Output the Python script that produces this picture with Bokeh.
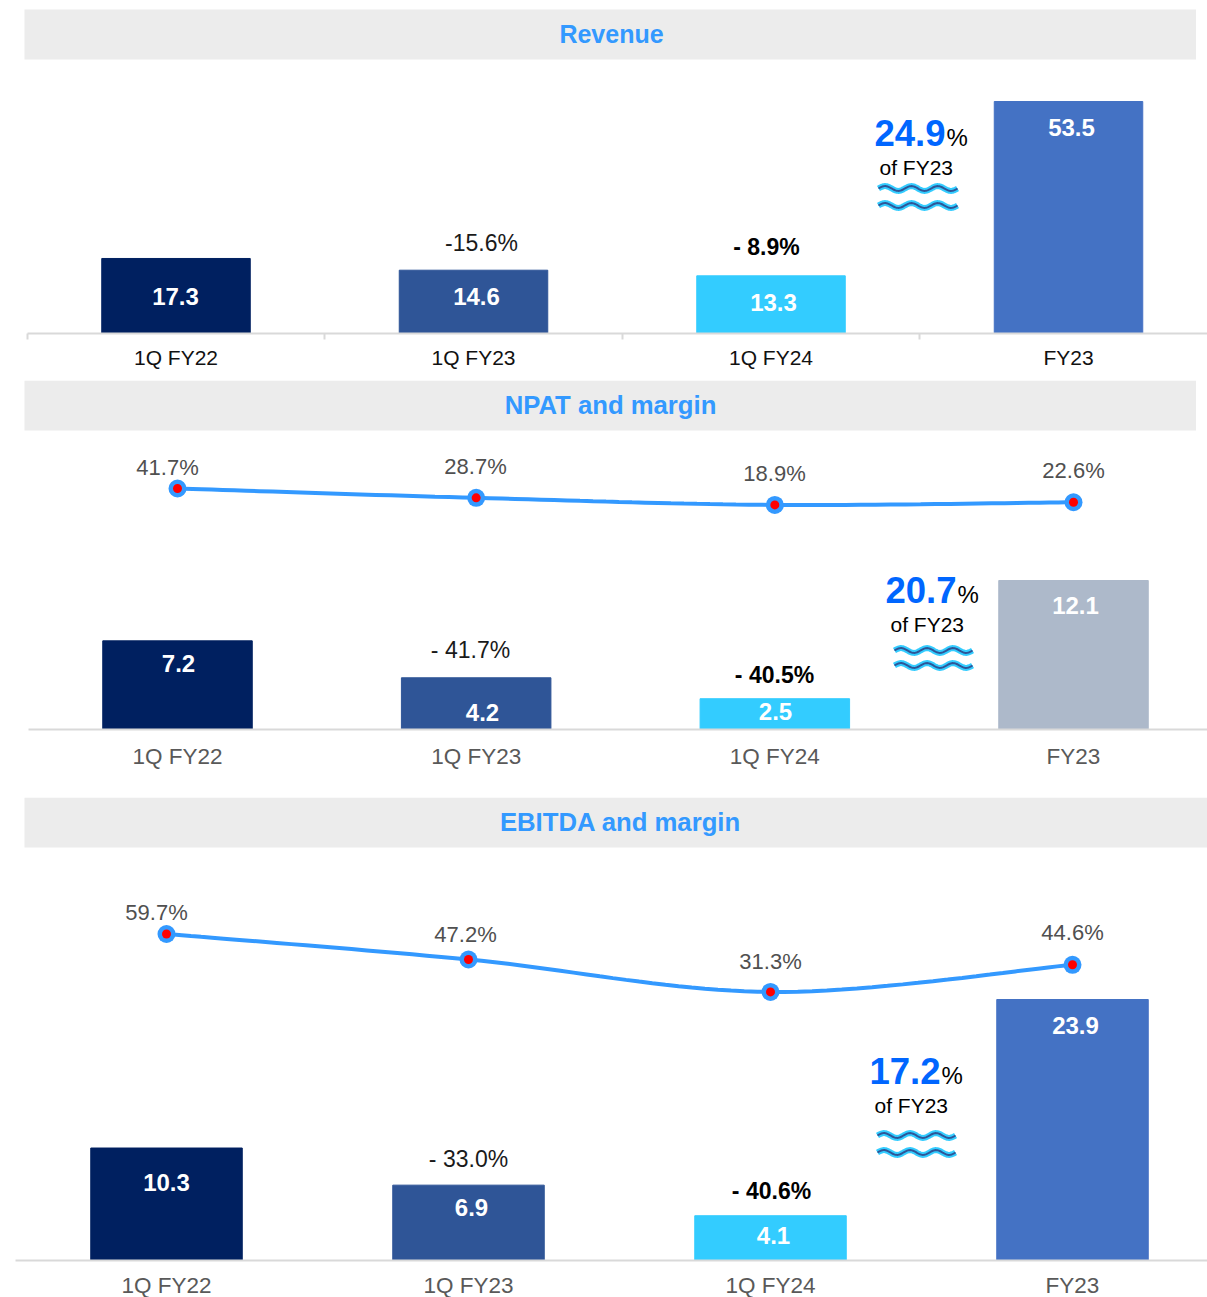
import numpy as np
from bokeh.embed import file_html
from bokeh.layouts import column
from bokeh.models import (BoxAnnotation, ColumnDataSource, FixedTicker, LinearAxis,
                          Range1d)
from bokeh.plotting import figure
from bokeh.resources import INLINE
from bokeh.core.properties import value

# ---------- data ----------
periods = ["1Q FY22", "1Q FY23", "1Q FY24", "FY23"]
revenue = [17.3, 14.6, 13.3, 53.5]
npat = [7.2, 4.2, 2.5, 12.1]
ebitda = [10.3, 6.9, 4.1, 23.9]
npat_margin = [41.7, 28.7, 18.9, 22.6]
ebitda_margin = [59.7, 47.2, 31.3, 44.6]
revenue_growth = ["-15.6%", "- 8.9%"]
npat_growth = ["- 41.7%", "- 40.5%"]
ebitda_growth = ["- 33.0%", "- 40.6%"]
share_of_fy23 = ["24.9", "20.7", "17.2"]

# ---------- style ----------
FONT = value("Liberation Sans")
BAR_COLORS = ["#002060", "#2F5597", "#33CCFF"]
BLUE = "#3399FF"
PAGE_LEFT, PAGE_RIGHT = 0, 1207


def smooth(xs, ys, n=24):
    """Curve through the points, as a smoothed spreadsheet line draws it."""
    xs, ys = np.asarray(xs, float), np.asarray(ys, float)
    px = np.r_[xs[0], xs, xs[-1]]
    py = np.r_[ys[0], ys, ys[-1]]
    ox, oy = [], []
    for i in range(1, len(px) - 2):
        t = np.linspace(0, 1, n)
        for arr, src in ((ox, px), (oy, py)):
            p0, p1, p2, p3 = src[i - 1], src[i], src[i + 1], src[i + 2]
            arr.extend(0.5 * (2 * p1 + (p2 - p0) * t + (2 * p0 - 5 * p1 + 4 * p2 - p3) * t ** 2
                              + (3 * p1 - p0 - 3 * p2 + p3) * t ** 3))
    return ox, oy


def panel(title, title_x, title_size, band, top_px, base_px, bottom_px, first_c, step, bar_w, values,
          last_color, px_per_unit, label_color, label_size, ticks_between, standoff,
          value_pos, growth, growth_pos, share, share_px, waves_px,
          margin=None, margin_anchor=None, margin_pos=None):
    x0 = (PAGE_LEFT - first_c) / step
    x1 = (PAGE_RIGHT - first_c) / step
    height = bottom_px - top_px
    p = figure(width=PAGE_RIGHT - PAGE_LEFT, height=height, output_backend="svg",
               toolbar_location=None, x_axis_type=None, y_axis_type=None,
               x_range=Range1d(x0, x1),
               y_range=Range1d((base_px - bottom_px) / px_per_unit, (base_px - top_px) / px_per_unit),
               min_border_left=0, min_border_right=0, min_border_top=0, min_border_bottom=0)
    p.outline_line_color = None
    p.grid.visible = False
    p.background_fill_color = "white"
    p.extra_x_ranges["page"] = Range1d(PAGE_LEFT, PAGE_RIGHT)
    p.extra_y_ranges["page"] = Range1d(bottom_px, top_px)

    axis = LinearAxis(ticker=FixedTicker(ticks=[0, 1, 2, 3],
                                         minor_ticks=[-.5, .5, 1.5, 2.5] if ticks_between else []),
                      major_label_overrides={i: n for i, n in enumerate(periods)},
                      bounds=(-0.5, x1), fixed_location=0)
    axis.axis_line_color = "#D9D9D9"
    axis.axis_line_width = 2
    axis.major_tick_line_color = None
    axis.minor_tick_line_color = "#D9D9D9"
    axis.minor_tick_line_width = 2
    axis.minor_tick_out = 6
    axis.minor_tick_in = 0
    axis.major_tick_out = 0
    axis.major_tick_in = 0
    axis.major_label_standoff = standoff
    axis.major_label_text_font = "Liberation Sans"
    axis.major_label_text_font_size = label_size
    axis.major_label_text_color = label_color
    p.add_layout(axis, "below")

    # title band
    p.add_layout(BoxAnnotation(left=band[0], right=band[1], top=band[2], bottom=band[3],
                               x_range_name="page", y_range_name="page",
                               fill_color="#ECECEC", fill_alpha=1, line_color=None, level="underlay"))

    def txt(x, y, s, color, size, bold=False, align="center"):
        p.text(x=[x], y=[y - 1], text=[s], x_range_name="page", y_range_name="page",
               text_font=FONT, text_font_size=size, text_color=color,
               text_font_style="bold" if bold else "normal",
               text_align=align, text_baseline="middle")

    txt(title_x, (band[2] + band[3]) / 2, title, BLUE, title_size, True)

    # bars
    colors = BAR_COLORS + [last_color]
    src = ColumnDataSource(dict(x=list(range(4)), top=values, color=colors))
    p.vbar(x="x", top="top", bottom=0, width=(bar_w - 0.5) / step, color="color", source=src)
    for v, (vx, vy) in zip(values, value_pos):
        txt(vx, vy, f"{v:.1f}", "white", "24px", True)

    # growth labels
    txt(growth_pos[0][0], growth_pos[0][1], growth[0], "#1A1A1A", "23px")
    txt(growth_pos[1][0], growth_pos[1][1], growth[1], "#000000", "23px", True)

    # share callout
    sx, sy, ox, oy = share_px
    txt(sx - 1, sy, share, "#0066FF", "36.5px", True, "left")
    txt(sx + 71, sy + 5, "%", "#000000", "24px", False, "left")
    txt(ox - 1, oy, "of FY23", "#000000", "21px", False, "left")

    # decorative wave icon
    wx0, wx1, wy1, wy2 = waves_px
    wx = np.linspace(wx0, wx1, 80)
    phase = (wx - wx0) / (wx1 - wx0) * 3 * 2 * np.pi
    for wy in (wy1, wy2):
        wave = wy - 2.4 * np.sin(phase)
        p.line(wx, wave, x_range_name="page", y_range_name="page", line_color="#33CCFF", line_width=6)
        p.line(wx, wave, x_range_name="page", y_range_name="page", line_color="#2F5597", line_width=2)

    # margin line
    if margin is not None:
        m_ref, m_px, m_scale = margin_anchor
        bot = m_ref - (bottom_px - m_px) / m_scale
        topv = bot + height / m_scale
        p.extra_y_ranges["margin"] = Range1d(bot, topv)
        sx_, sy_ = smooth(range(4), margin)
        p.line(sx_, sy_, y_range_name="margin", line_color=BLUE, line_width=4, line_cap="round")
        p.scatter(list(range(4)), margin, y_range_name="margin", size=18, marker="circle",
                  fill_color=BLUE, line_color=None)
        p.scatter(list(range(4)), margin, y_range_name="margin", size=9, marker="circle",
                  fill_color="#FF0000", line_color=None)
        for v, (mx, my) in zip(margin, margin_pos):
            txt(mx, my, f"{v:.1f}%", "#505050", "22px")
    return p


p1 = panel("Revenue", 611, "25px", (24, 1195.5, 9, 59), 0, 333, 380, 175.5, 297.5, 149, revenue, "#4472C4",
           232 / 53.5, "#111111", "21px", True, 6,
           [(175, 297), (476, 297), (773, 303), (1071, 128)],
           revenue_growth, [(481, 243), (766, 247)], share_of_fy23[0],
           (875, 133, 880, 168), (878, 957, 188, 205))

p2 = panel("NPAT and margin", 610, "25.7px", (24, 1195.5, 380, 430), 380, 729, 797, 177, 298.67, 150, npat,
           "#ADB9CA", 149 / 12.1, "#595959", "22.5px", False, 14,
           [(178, 664), (482, 713), (775, 712), (1075, 606)],
           npat_growth, [(470, 650), (774, 675)], share_of_fy23[1],
           (886, 590, 891, 625), (894, 972, 650, 665),
           npat_margin, (41.7, 488, 0.72), [(167, 468), (475, 467), (774, 474), (1073, 471)])

p3 = panel("EBITDA and margin", 620, "25.7px", (24, 1207, 797, 847), 797, 1260, 1297, 166, 302, 152, ebitda,
           "#4472C4", 261 / 23.9, "#595959", "22.5px", False, 12,
           [(166, 1183), (471, 1208), (773, 1236), (1075, 1026)],
           ebitda_growth, [(468, 1159), (771, 1191)], share_of_fy23[2],
           (870, 1071, 875, 1106), (877, 955, 1135, 1152),
           ebitda_margin, (59.7, 933.5, 2.04), [(156, 913), (465, 935), (770, 962), (1072, 933)])

page = column(p1, p2, p3, spacing=0)
open("out.html", "w").write(file_html(page, INLINE))
